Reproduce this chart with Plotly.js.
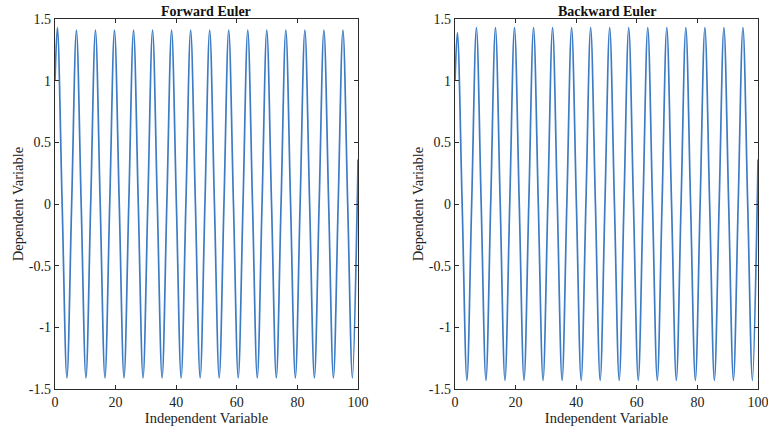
<!DOCTYPE html>
<html>
<head>
<meta charset="utf-8">
<script src="https://cdn.plot.ly/plotly-3.0.1.min.js"></script>
<style>html,body{margin:0;padding:0;background:#fff;}#chart{width:768px;height:432px;}</style>
</head>
<body>
<div id="chart"></div>
<script>
// Independent variable positions (start, peaks, zero crossings, troughs, end)
const xVals = [0, 0.79, 2.36, 3.93, 5.50, 7.07, 8.64, 10.21, 11.78, 13.35, 14.92, 16.49, 18.06, 19.63, 21.21, 22.78,
  24.35, 25.92, 27.49, 29.06, 30.63, 32.20, 33.77, 35.34, 36.91, 38.48, 40.06, 41.63, 43.20, 44.77, 46.34, 47.91,
  49.48, 51.05, 52.62, 54.19, 55.76, 57.33, 58.90, 60.48, 62.05, 63.62, 65.19, 66.76, 68.33, 69.90, 71.47, 73.04,
  74.61, 76.18, 77.75, 79.33, 80.90, 82.47, 84.04, 85.61, 87.18, 88.75, 90.32, 91.89, 93.46, 95.03, 96.60, 98.17,
  99.75, 100];

// Forward Euler dependent variable
const yForward = [1.0, 1.43, 0, -1.41, 0, 1.41, 0, -1.41, 0, 1.41, 0, -1.41, 0, 1.41, 0, -1.41,
  0, 1.41, 0, -1.41, 0, 1.41, 0, -1.41, 0, 1.41, 0, -1.41, 0, 1.41, 0, -1.41,
  0, 1.41, 0, -1.41, 0, 1.41, 0, -1.41, 0, 1.41, 0, -1.41, 0, 1.41, 0, -1.41,
  0, 1.41, 0, -1.41, 0, 1.41, 0, -1.41, 0, 1.41, 0, -1.41, 0, 1.41, 0, -1.41,
  0, 0.36];

// Backward Euler dependent variable
const yBackward = [1.0, 1.39, 0, -1.43, 0, 1.43, 0, -1.43, 0, 1.43, 0, -1.43, 0, 1.43, 0, -1.43,
  0, 1.43, 0, -1.43, 0, 1.43, 0, -1.43, 0, 1.43, 0, -1.43, 0, 1.43, 0, -1.43,
  0, 1.43, 0, -1.43, 0, 1.43, 0, -1.43, 0, 1.43, 0, -1.43, 0, 1.43, 0, -1.43,
  0, 1.43, 0, -1.43, 0, 1.43, 0, -1.43, 0, 1.43, 0, -1.43, 0, 1.43, 0, -1.43,
  0, 0.36];

const titles = ["Forward Euler", "Backward Euler"];
const xTicks = [0, 20, 40, 60, 80, 100];
const yTicks = [-1.5, -1, -0.5, 0, 0.5, 1, 1.5];
const yTickText = ["-1.5", "-1", "-0.5", "0", "0.5", "1", "1.5"];

const lineColor = "#3d7cc4";
const axisColor = "#2b2b2b";
const font = "Liberation Serif, Times New Roman, serif";

const traces = [
  {x: xVals, y: yForward, xaxis: "x", yaxis: "y", mode: "lines",
   line: {color: lineColor, width: 1.7, shape: "spline", smoothing: 1.0}, hoverinfo: "none"},
  {x: xVals, y: yBackward, xaxis: "x2", yaxis: "y2", mode: "lines",
   line: {color: lineColor, width: 1.7, shape: "spline", smoothing: 1.0}, hoverinfo: "none"}
];

function xaxis(domain, anchor) {
  return {domain: domain, anchor: anchor, range: [0, 100], tickvals: xTicks, ticktext: xTicks.map(String),
    ticks: "inside", ticklen: 4, tickcolor: axisColor, showline: true, linecolor: axisColor, linewidth: 1.2,
    mirror: "ticks", showgrid: false, zeroline: false, ticklabeloverflow: "allow",
    tickfont: {family: font, size: 14, color: "#222"},
    title: {text: "Independent Variable", font: {family: font, size: 14.5, color: "#222"}, standoff: 2}};
}
function yaxis(anchor) {
  return {domain: [0, 1], anchor: anchor, range: [-1.5, 1.5], tickvals: yTicks, ticktext: yTickText,
    ticks: "inside", ticklen: 4, tickcolor: axisColor, showline: true, linecolor: axisColor, linewidth: 1.2,
    mirror: "ticks", showgrid: false, zeroline: false, ticklabeloverflow: "allow",
    tickfont: {family: font, size: 14, color: "#222"},
    title: {text: "Dependent Variable", font: {family: font, size: 14.5, color: "#222"}, standoff: 1}};
}

const layout = {
  width: 768, height: 432,
  margin: {l: 55, r: 10, t: 19, b: 43},
  paper_bgcolor: "#fff", plot_bgcolor: "#fff",
  showlegend: false,
  xaxis: xaxis([0, 0.431], "y"),
  yaxis: yaxis("x"),
  xaxis2: xaxis([0.569, 1], "y2"),
  yaxis2: yaxis("x2"),
  annotations: titles.map((t, i) => ({
    text: "<b>" + t + "</b>", xref: i === 0 ? "x domain" : "x2 domain", yref: "paper",
    x: 0.5, y: 1, xanchor: "center", yanchor: "bottom", yshift: -2, showarrow: false,
    font: {family: font, size: 14, color: "#111"}
  }))
};

Plotly.newPlot("chart", traces, layout, {staticPlot: true, displayModeBar: false});
</script>
</body>
</html>
